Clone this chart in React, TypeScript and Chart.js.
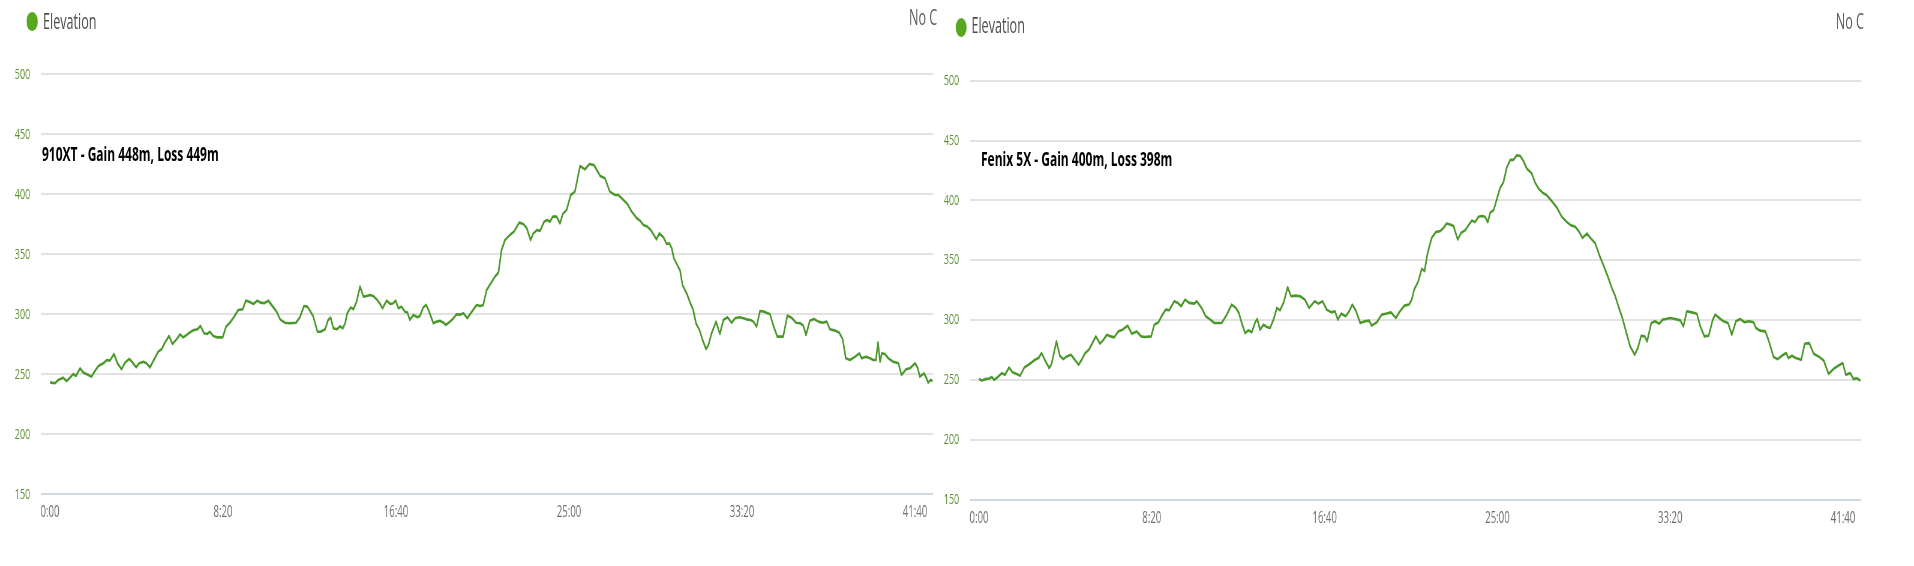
import React, { useEffect, useRef } from "react";
import { Chart, registerables } from "chart.js";

Chart.register(...registerables);

// ---- data -------------------------------------------------------------
const xTickSeconds = [0, 500, 1000, 1500, 2000, 2500];
const yTickValues = [150, 200, 250, 300, 350, 400, 450, 500];
const xAxisMin = -26;
const xAxisMax = 2552;
const yAxisMin = 150;
const yAxisMax = 500;

const seriesLabel = "Elevation";
const titles = ["910XT - Gain 448m, Loss 449m", "Fenix 5X - Gain 400m, Loss 398m"];

const xt910Seconds = [
  0, 14, 24, 38, 48, 58, 67, 75, 87, 96, 111, 120, 130, 140, 154, 164, 173, 185, 195, 207,
  217, 229, 239, 249, 258, 270, 279, 289, 299, 313, 323, 332, 344, 354, 366, 376, 385, 395, 407, 416,
  426, 435, 445, 455, 462, 472, 482, 499, 509, 520, 532, 544, 557, 566, 576, 588, 599, 609, 619, 631,
  644, 655, 665, 679, 694, 711, 723, 734, 744, 753, 761, 773, 782, 795, 804, 811, 819, 829, 838, 846,
  853, 859, 869, 877, 886, 896, 906, 915, 925, 934, 944, 954, 961, 973, 983, 992, 999, 1007, 1016, 1026,
  1033, 1040, 1050, 1062, 1069, 1079, 1087, 1093, 1108, 1118, 1127, 1137, 1144, 1156, 1166, 1175, 1185, 1195, 1206, 1219,
  1233, 1243, 1252, 1262, 1274, 1286, 1296, 1305, 1315, 1329, 1341, 1356, 1368, 1378, 1389, 1397, 1408, 1416, 1428, 1437,
  1445, 1453, 1464, 1474, 1482, 1493, 1505, 1517, 1532, 1546, 1559, 1572, 1590, 1604, 1618, 1633, 1643, 1657, 1669, 1681,
  1696, 1705, 1715, 1726, 1736, 1749, 1753, 1761, 1773, 1782, 1790, 1797, 1803, 1813, 1821, 1828, 1840, 1850, 1859, 1867,
  1877, 1886, 1896, 1903, 1912, 1925, 1936, 1946, 1958, 1970, 1980, 1992, 2004, 2013, 2025, 2033, 2042, 2052, 2064, 2081,
  2090, 2102, 2119, 2131, 2143, 2156, 2168, 2177, 2185, 2196, 2208, 2221, 2233, 2245, 2254, 2269, 2281, 2291, 2300, 2312,
  2327, 2339, 2346, 2358, 2370, 2379, 2387, 2393, 2399, 2404, 2413, 2423, 2437, 2452, 2461, 2474, 2485, 2500, 2507, 2514,
  2526, 2532, 2538, 2545, 2551,
];
const xt910Elevation = [
  243.3, 242.5, 245.3, 247.2, 244.4, 247.2, 250.3, 248.6, 255, 251.4, 249.4, 248, 252.8, 256.9, 259.2, 261.9, 261.4, 266.9, 259.2, 254.2,
  259.7, 262.8, 259.7, 255.8, 259.2, 260.5, 259.2, 255.8, 261.4, 268.9, 271.1, 276.4, 281.9, 275.3, 279.2, 283.3, 280.8, 282.8, 285.5, 286.9,
  287.5, 290.3, 284.2, 283.6, 285.5, 281.9, 280.8, 280.8, 289.7, 293, 298, 303.6, 304.2, 311.4, 310.5, 308.6, 311.4, 309.7, 309.2, 311.4,
  306.4, 302.2, 295.8, 293, 292.5, 293, 298, 306.9, 306.4, 302.2, 298, 285.5, 285.5, 287.5, 295.3, 297.2, 288.3, 287.5, 290, 288.3,
  292.5, 300.8, 305.8, 304.2, 310.5, 323.1, 314.7, 315.3, 316.1, 315.3, 312.5, 308.6, 305, 311.4, 308.6, 309.2, 311.4, 305, 306.4, 302.2,
  301.4, 295.3, 299.4, 297.5, 298.6, 305.8, 307.8, 304.2, 292.5, 293.9, 294.7, 293, 291.1, 293.9, 296.7, 300, 299.7, 300.8, 296.7, 302.2,
  307.8, 306.9, 307.8, 320.3, 325.8, 331.4, 334.7, 353.6, 361.9, 366.1, 368.9, 376.4, 375.3, 371.7, 361.9, 367.5, 370.3, 369.4, 377.2, 378.6,
  377.2, 381.4, 381.4, 375.8, 383.6, 386.9, 399.4, 402.2, 423.6, 420.8, 425.3, 424.4, 415.3, 413.3, 402.2, 399.4, 399.4, 395.3, 391.9, 385.6,
  380, 378.1, 374.4, 373.1, 370.3, 364.2, 362.5, 367.5, 364.2, 358.6, 359.2, 355, 346.7, 341.1, 336.4, 324.4, 317.5, 309.7, 303.6, 292.5,
  286.9, 278.6, 271.1, 274.4, 284.2, 293.9, 283.6, 295.3, 297.5, 293, 296.7, 297.5, 296.7, 295.8, 295.3, 293.9, 289.7, 302.8, 302.2, 300,
  291.1, 281.4, 281.4, 298.9, 297.2, 293, 292.5, 290.6, 282.8, 294.7, 296.1, 293.9, 293, 293.9, 287.5, 286.4, 284.7, 279.2, 263.3, 261.9,
  264.7, 267.5, 263.3, 264.7, 263.3, 261.9, 261.9, 276.4, 260.5, 267.5, 266.9, 263.3, 260.5, 259.2, 249.4, 254.2, 255, 259.2, 255.8, 248,
  250.8, 247.5, 243, 245.3, 244.4,
];

const fenixSeconds = [
  0, 8, 19, 29, 37, 44, 56, 66, 75, 87, 97, 109, 119, 131, 143, 152, 162, 172, 181, 191,
  203, 210, 224, 234, 244, 254, 266, 276, 288, 297, 307, 318, 328, 338, 350, 360, 370, 381, 391, 403,
  415, 430, 442, 456, 469, 480, 498, 507, 519, 529, 540, 550, 565, 575, 585, 596, 608, 623, 630, 644,
  656, 669, 681, 702, 717, 731, 743, 752, 760, 770, 779, 789, 799, 805, 813, 823, 833, 842, 852, 862,
  871, 881, 893, 903, 916, 929, 943, 955, 971, 982, 994, 1006, 1019, 1030, 1038, 1048, 1061, 1071, 1080, 1090,
  1103, 1117, 1129, 1136, 1151, 1165, 1177, 1192, 1206, 1218, 1231, 1244, 1252, 1259, 1271, 1281, 1289, 1298, 1310, 1322,
  1334, 1344, 1353, 1363, 1373, 1385, 1395, 1407, 1416, 1426, 1435, 1445, 1455, 1464, 1472, 1479, 1489, 1498, 1508, 1517,
  1527, 1537, 1546, 1556, 1566, 1575, 1585, 1599, 1609, 1619, 1633, 1643, 1657, 1672, 1686, 1701, 1713, 1725, 1735, 1746,
  1759, 1771, 1783, 1794, 1807, 1819, 1831, 1841, 1850, 1860, 1872, 1884, 1897, 1906, 1916, 1926, 1933, 1945, 1956, 1968,
  1978, 1987, 2000, 2014, 2029, 2038, 2048, 2063, 2077, 2087, 2099, 2111, 2123, 2130, 2142, 2154, 2167, 2178, 2190, 2202,
  2215, 2227, 2241, 2248, 2260, 2275, 2284, 2299, 2311, 2323, 2335, 2342, 2352, 2363, 2379, 2389, 2402, 2415, 2429, 2444,
  2458, 2472, 2487, 2499, 2508, 2521, 2530, 2540, 2550,
];
const fenixElevation = [
  250.6, 249.5, 250.6, 251.1, 252.3, 250, 252.8, 255.6, 254.2, 260.3, 256.4, 254.8, 253.4, 260.3, 262.6, 264.5, 266.8, 268.2, 272.4, 266.2,
  259.8, 263.4, 282.1, 270.1, 267.3, 269.6, 271, 267.3, 262.6, 266.8, 272.4, 275.2, 280.7, 286.3, 280.2, 283.5, 287.7, 286.3, 285.5, 290.5,
  291.9, 295.3, 288.6, 290.5, 286.3, 285.8, 286.3, 296.1, 298.1, 303.6, 308.7, 308.1, 315.7, 314.3, 311.5, 317, 314.3, 313.7, 315.7, 310.1,
  303.1, 300.3, 297.5, 297.5, 304.5, 312.9, 310.1, 305.9, 297.5, 289.1, 291.4, 289.7, 298.1, 300.8, 291.9, 296.1, 294.1, 293.3, 300.3, 310.1,
  308.1, 314.3, 327.4, 319.8, 320.4, 319.8, 317, 310.1, 315.7, 313.7, 315.7, 308.7, 306.4, 307.3, 300.3, 305.3, 303.1, 307.3, 312.9, 308.1,
  297.5, 298.9, 299.5, 295.3, 298.1, 304.5, 305.3, 306.4, 301.7, 307.3, 312, 312.9, 317, 325.4, 332.4, 342.7, 340.8, 356.1, 368.7, 373.5,
  374.3, 377.1, 380.7, 379.9, 378.5, 367.3, 372.9, 375.1, 379.1, 383.2, 381.8, 386.3, 386.9, 386.3, 381.8, 389.7, 391.9, 400.8, 410.6, 414.8,
  427.4, 433.8, 433.8, 437.7, 437.1, 433, 426.5, 422.6, 414.8, 409.8, 405.9, 404.2, 399.4, 393.9, 386.3, 381.8, 379.1, 377.9, 374.3, 368.7,
  372.3, 367.9, 364, 354.8, 345.5, 336.6, 326.8, 319.8, 311.5, 303.1, 290.5, 277.9, 271, 276.5, 286.9, 286.3, 282.1, 297.5, 298.9, 296.9,
  300.3, 300.8, 301.7, 300.8, 299.7, 294.7, 307.3, 306.4, 305.3, 294.7, 286.3, 286.9, 300.3, 304.5, 301.7, 298.9, 297.5, 287.7, 298.9, 300.8,
  298.1, 298.9, 298.1, 293.3, 291.1, 290.5, 283.5, 269, 267.3, 270.1, 272.4, 268.2, 270.1, 268.2, 266.8, 280.2, 280.7, 271.8, 269.6, 266.2,
  255, 259, 262, 264, 254.2, 255.6, 250.6, 251.4, 249.5,
];

// ---- styling -----------------------------------------------------------
const SQUEEZE = 0.6; // the reference screenshot is compressed horizontally
const PAGE_W = 1914;
const PAGE_H = 566;
const INNER_W = PAGE_W / SQUEEZE;
const FONT = "'Open Sans', 'Liberation Sans', 'DejaVu Sans', sans-serif";
const LINE_COLOR = "#4a972a";
const DOT_COLOR = "#57a81f";
const Y_TICK_COLOR = "#5c9033";
const X_TICK_COLOR = "#6e6e6e";
const GRID_COLOR = "#e2e2e2";
const BASE_GRID_COLOR = "#d0d6e2";

function formatClock(sec: number): string {
  const m = Math.floor(sec / 60);
  const s = Math.round(sec - m * 60);
  return `${m}:${String(s).padStart(2, "0")}`;
}

type Pad = { top: number; right: number; bottom: number; left: number };

function ElevationChart(props: {
  seconds: number[];
  values: number[];
  left: number;
  width: number;
  pad: Pad;
  yAxisWidth: number;
}) {
  const { seconds, values, left, width, pad, yAxisWidth } = props;
  const ref = useRef<HTMLCanvasElement | null>(null);

  useEffect(() => {
    if (!ref.current) return;
    const points = seconds.map((x, i) => ({ x, y: values[i] }));
    const chart = new Chart(ref.current, {
      type: "line",
      data: {
        datasets: [
          {
            label: seriesLabel,
            data: points,
            borderColor: LINE_COLOR,
            borderWidth: 2.6,
            borderJoinStyle: "round",
            pointRadius: 0,
            tension: 0,
            fill: false,
          },
        ],
      },
      options: {
        responsive: false,
        animation: false,
        devicePixelRatio: 1,
        layout: { padding: pad },
        plugins: { legend: { display: false }, tooltip: { enabled: false } },
        scales: {
          x: {
            type: "linear",
            min: xAxisMin,
            max: xAxisMax,
            afterBuildTicks: (axis: any) => {
              axis.ticks = xTickSeconds.map((v) => ({ value: v }));
            },
            afterFit: (axis: any) => {
              axis.height = 40;
            },
            grid: { display: false, drawTicks: false },
            border: { display: false },
            ticks: {
              color: X_TICK_COLOR,
              padding: 9,
              maxRotation: 0,
              autoSkip: false,
              font: { family: FONT, size: 16, weight: 400 as any },
              callback: (v: any) => formatClock(Number(v)),
            },
          },
          y: {
            type: "linear",
            min: yAxisMin,
            max: yAxisMax,
            afterBuildTicks: (axis: any) => {
              axis.ticks = yTickValues.map((v) => ({ value: v }));
            },
            afterFit: (axis: any) => {
              axis.width = yAxisWidth;
            },
            grid: {
              drawTicks: false,
              lineWidth: 2,
              color: (ctx: any) =>
                ctx.tick && ctx.tick.value === yAxisMin ? BASE_GRID_COLOR : GRID_COLOR,
            },
            border: { display: false },
            ticks: {
              color: Y_TICK_COLOR,
              padding: 18,
              font: { family: FONT, size: 15, weight: 400 as any },
            },
          },
        },
      },
    });
    return () => chart.destroy();
  }, []);

  return (
    <canvas
      ref={ref}
      width={width}
      height={PAGE_H}
      style={{ position: "absolute", left, top: 0 }}
    />
  );
}

function Legend(props: { dotLeft: number; dotTop: number; textLeft: number; textTop: number }) {
  const { dotLeft, dotTop, textLeft, textTop } = props;
  return (
    <>
      <div
        style={{
          position: "absolute",
          left: dotLeft,
          top: dotTop,
          width: 18.5,
          height: 18.5,
          borderRadius: "50%",
          background: DOT_COLOR,
        }}
      />
      <div
        style={{
          position: "absolute",
          left: textLeft,
          top: textTop,
          fontFamily: FONT,
          fontWeight: 400,
          fontSize: 21,
          lineHeight: "21px",
          color: "#4d4d4d",
          whiteSpace: "nowrap",
        }}
      >
        {seriesLabel}
      </div>
    </>
  );
}

function NoC(props: { right: number; top: number }) {
  return (
    <div
      style={{
        position: "absolute",
        right: props.right,
        top: props.top,
        fontFamily: FONT,
        fontWeight: 400,
        fontSize: 21,
        lineHeight: "21px",
        color: "#5e5e5e",
        whiteSpace: "nowrap",
      }}
    >
      No C
    </div>
  );
}

function Annotation(props: { left: number; top: number; text: string }) {
  return (
    <div
      style={{
        position: "absolute",
        left: props.left,
        top: props.top,
        fontFamily: FONT,
        fontWeight: 700,
        fontSize: 20,
        lineHeight: "20px",
        color: "#000",
        whiteSpace: "nowrap",
      }}
    >
      {props.text}
    </div>
  );
}

export default function App() {
  const leftW = 1562;
  const rightW = INNER_W - leftW;
  return (
    <div
      style={{
        position: "fixed",
        left: 0,
        top: 0,
        width: PAGE_W,
        height: PAGE_H,
        overflow: "hidden",
        background: "#fff",
      }}
    >
      <div
        style={{
          position: "absolute",
          left: 0,
          top: 0,
          width: INNER_W,
          height: PAGE_H,
          transform: `scaleX(${SQUEEZE})`,
          transformOrigin: "0 0",
        }}
      >
        <ElevationChart
          seconds={xt910Seconds}
          values={xt910Elevation}
          left={0}
          width={leftW}
          pad={{ top: 74.3, right: 7, bottom: 31.7, left: 0 }}
          yAxisWidth={68.3}
        />
        <ElevationChart
          seconds={fenixSeconds}
          values={fenixElevation}
          left={leftW}
          width={rightW}
          pad={{ top: 80.7, right: 88.3, bottom: 26.5, left: 0 }}
          yAxisWidth={54.7}
        />
        <Legend dotLeft={44} dotTop={12.3} textLeft={71.7} textTop={11.4} />
        <Legend dotLeft={1592.5} dotTop={18.3} textLeft={1619} textTop={14.7} />
        <NoC right={INNER_W - 1562} top={7.4} />
        <NoC right={INNER_W - 3106.7} top={11.4} />
        <Annotation left={70} top={143.5} text={titles[0]} />
        <Annotation left={1635} top={148.5} text={titles[1]} />
      </div>
    </div>
  );
}
